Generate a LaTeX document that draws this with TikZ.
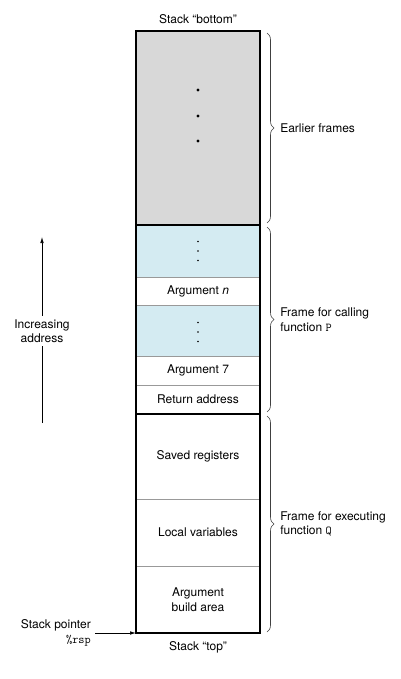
\documentclass[tikz,border=0pt]{standalone}
\usepackage{fontspec}
\setmainfont{TeX Gyre Heros}
\usetikzlibrary{positioning,decorations.pathreplacing,arrows.meta}
\definecolor{framegray}{RGB}{216,216,216}
\definecolor{argblue}{RGB}{212,235,242}
\begin{document}
\begin{tikzpicture}[x=1pt, y=1pt, font=\fontsize{12}{14.5}\selectfont,
  cell/.style={draw=black!40, line width=0.5pt, minimum width=124pt, inner sep=0pt, outer sep=0pt},
  brace/.style={decorate, decoration={brace, amplitude=7pt}, draw=black!75, line width=0.6pt},
  side/.style={align=left, right=13pt, inner sep=0pt},
  frameline/.style={line width=1.3pt},
  pointer/.style={-{Latex[length=6pt,width=3.5pt]}, line width=0.6pt}]
  \useasboundingbox (0,0) rectangle (400,-679);

  \node[cell, fill=framegray, minimum height=194pt] (earlier) at (198,-128) {};
  \node[cell, fill=argblue, minimum height=52pt, below=0pt of earlier] (upperargs) {};
  \node[cell, minimum height=28pt, below=0pt of upperargs] (argn) {Argument \textit{n}};
  \node[cell, fill=argblue, minimum height=51pt, below=0pt of argn] (lowerargs) {};
  \node[cell, minimum height=29pt, below=0pt of lowerargs] (argseven) {Argument 7};
  \node[cell, minimum height=29pt, below=0pt of argseven] (retaddr) {Return address};
  \node[cell, minimum height=85pt, below=0pt of retaddr] (saved) {Saved registers};
  \node[cell, minimum height=67pt, below=0pt of saved] (locals) {Local variables};
  \node[cell, minimum height=67pt, below=0pt of locals, align=center] (build) {Argument\\build area};

  \draw[frameline] (earlier.north west) rectangle (build.south east);
  \draw[frameline] (upperargs.north west) -- (upperargs.north east);
  \draw[frameline] (saved.north west) -- (saved.north east);

  \foreach \dy in {38,12,-13}
    \fill ([yshift=\dy pt]earlier.center) circle (1.6pt);
  \foreach \dy in {9.5,0,-9.5} {
    \fill ([yshift=\dy pt]upperargs.center) circle (0.9pt);
    \fill ([yshift=\dy pt-1.5pt]lowerargs.center) circle (0.9pt);
  }

  \node[above=4pt of earlier] (bottomlbl) {Stack “bottom”};
  \node[below=5pt of build] (toplbl) {Stack “top”};

  \draw[brace] ([xshift=7pt,yshift=-2pt]earlier.north east) -- ([xshift=7pt,yshift=2pt]earlier.south east)
    node[midway, side] (earlierlbl) {Earlier frames};
  \draw[brace] ([xshift=7pt,yshift=-2pt]upperargs.north east) -- ([xshift=7pt,yshift=2pt]retaddr.south east)
    node[midway, side] (callinglbl) {Frame for calling\\function \texttt{P}};
  \draw[brace] ([xshift=7pt,yshift=-2pt]saved.north east) -- ([xshift=7pt,yshift=1pt]build.south east)
    node[midway, side] (executinglbl) {Frame for executing\\function \texttt{Q}};

  \node[align=center] (incr) at (42,-331) {Increasing\\address};
  \coordinate (arrowlo) at (42,-423);
  \coordinate (arrowhi) at (42,-237);
  \draw[line width=0.6pt] (arrowlo) -- (incr);
  \draw[pointer] (incr) -- (arrowhi);

  \node[align=right, anchor=east, inner sep=0pt] (sp) at (91,-633) {Stack pointer\\\texttt{\%rsp}};
  \draw[pointer] ([xshift=4pt]sp.east) -- (build.south west);
\end{tikzpicture}
\end{document}
